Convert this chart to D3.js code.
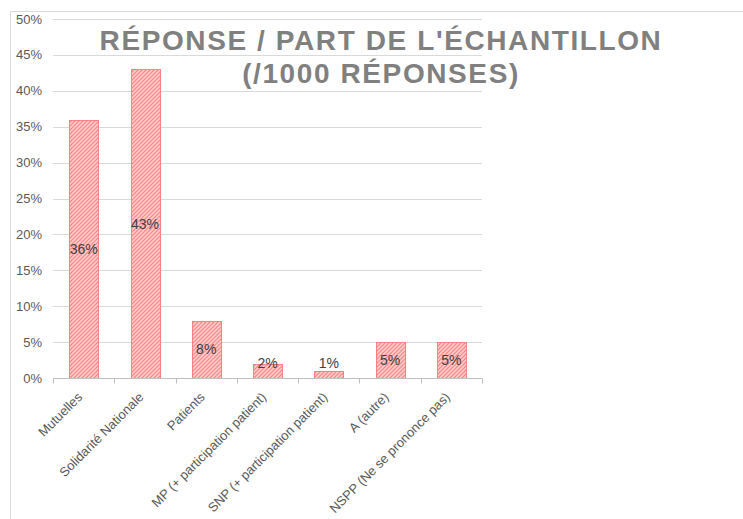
<!DOCTYPE html>
<html>
<head>
<meta charset="utf-8">
<script src="https://cdn.jsdelivr.net/npm/d3@7"></script>
<style>
  body { margin: 0; background: #fff; }
  svg { display: block; font-family: Arial, "Liberation Sans", sans-serif; }
</style>
</head>
<body>
<div id="chart"></div>
<script>
const width = 743, height = 519;

const categories = ["Mutuelles", "Solidarité Nationale", "Patients", "MP (+ participation patient)",
  "SNP (+ participation patient)", "A (autre)", "NSPP (Ne se prononce pas)"];
const shares = [0.36, 0.43, 0.08, 0.02, 0.01, 0.05, 0.05];
const yTicks = [0, 0.05, 0.10, 0.15, 0.20, 0.25, 0.30, 0.35, 0.40, 0.45, 0.50];
const titleLines = ["RÉPONSE / PART DE L'ÉCHANTILLON", "(/1000 RÉPONSES)"];

const margin = {top: 19, right: 261, bottom: 141, left: 53};

const svg = d3.select("#chart").append("svg")
  .attr("width", width)
  .attr("height", height);

// hatch pattern like excel "wide upward diagonal"
const defs = svg.append("defs");
const pat = defs.append("pattern")
  .attr("id", "hatch")
  .attr("patternUnits", "userSpaceOnUse")
  .attr("width", 4).attr("height", 4);
pat.append("rect").attr("width", 4).attr("height", 4).attr("fill", "#ffd2d2");
pat.append("path")
  .attr("d", "M-1,1 l2,-2 M0,4 l4,-4 M3,5 l2,-2")
  .attr("stroke", "#ff8c8c")
  .attr("stroke-width", 1.4);

// chart frame
svg.append("path")
  .attr("d", `M10.5,${height} V11.5 H${width}`)
  .attr("fill", "none")
  .attr("stroke", "#d9d9d9");

const x = d3.scaleBand()
  .domain(categories)
  .range([margin.left, width - margin.right])
  .paddingInner(0.53)
  .paddingOuter(0.265);

const y = d3.scaleLinear()
  .domain([0, 0.5])
  .range([height - margin.bottom, margin.top]);

// gridlines
svg.append("g")
  .selectAll("line")
  .data(yTicks.slice(1))
  .join("line")
  .attr("x1", margin.left)
  .attr("x2", width - margin.right)
  .attr("y1", d => Math.round(y(d)) + 0.5)
  .attr("y2", d => Math.round(y(d)) + 0.5)
  .attr("stroke", "#d9d9d9");

// y axis labels
svg.append("g")
  .selectAll("text")
  .data(yTicks)
  .join("text")
  .attr("x", 42)
  .attr("y", d => y(d))
  .attr("dy", "0.35em")
  .attr("text-anchor", "end")
  .attr("font-size", 13)
  .attr("fill", "#595959")
  .text(d => d3.format(".0%")(d));

// title
const title = svg.append("text")
  .attr("text-anchor", "middle")
  .attr("font-size", 28)
  .attr("font-weight", "bold")
  .attr("fill", "#808080");
titleLines.forEach((t, i) => {
  title.append("tspan")
    .attr("x", 381)
    .attr("y", 50 + i * 33)
    .attr("letter-spacing", "1.6px")
    .text(t);
});

// bars
const y0 = y(0);
svg.append("g")
  .selectAll("rect")
  .data(shares)
  .join("rect")
  .attr("x", (d, i) => Math.round(x(categories[i])) + 0.5)
  .attr("y", d => Math.round(y(d)) + 0.5)
  .attr("width", Math.round(x.bandwidth()))
  .attr("height", d => Math.round(y0) - Math.round(y(d)))
  .attr("fill", "url(#hatch)")
  .attr("stroke", "#ff8080")
  .attr("stroke-width", 1);

// data labels
svg.append("g")
  .selectAll("text")
  .data(shares)
  .join("text")
  .attr("x", (d, i) => x(categories[i]) + x.bandwidth() / 2)
  .attr("y", d => Math.min((y(d) + y0) / 2, y0 - 15))
  .attr("dy", "0.35em")
  .attr("text-anchor", "middle")
  .attr("font-size", 14)
  .attr("fill", "#404040")
  .text(d => d3.format(".0%")(d));

// x axis
const gx = svg.append("g")
  .attr("transform", `translate(0,${Math.round(y0) + 0.5})`);
gx.append("line")
  .attr("x1", margin.left).attr("x2", width - margin.right)
  .attr("stroke", "#bfbfbf");
gx.selectAll("line.tick")
  .data(d3.range(categories.length + 1))
  .join("line")
  .attr("class", "tick")
  .attr("x1", i => Math.round(margin.left + i * x.step()) + 0.5)
  .attr("x2", i => Math.round(margin.left + i * x.step()) + 0.5)
  .attr("y1", 0).attr("y2", 5)
  .attr("stroke", "#bfbfbf");

gx.selectAll("text")
  .data(categories)
  .join("text")
  .attr("transform", d => `translate(${x(d) + x.bandwidth() / 2 - 7},13) rotate(-45)`)
  .attr("text-anchor", "end")
  .attr("dy", "0.7em")
  .attr("font-size", 13)
  .attr("fill", "#595959")
  .text(d => d);
</script>
</body>
</html>
